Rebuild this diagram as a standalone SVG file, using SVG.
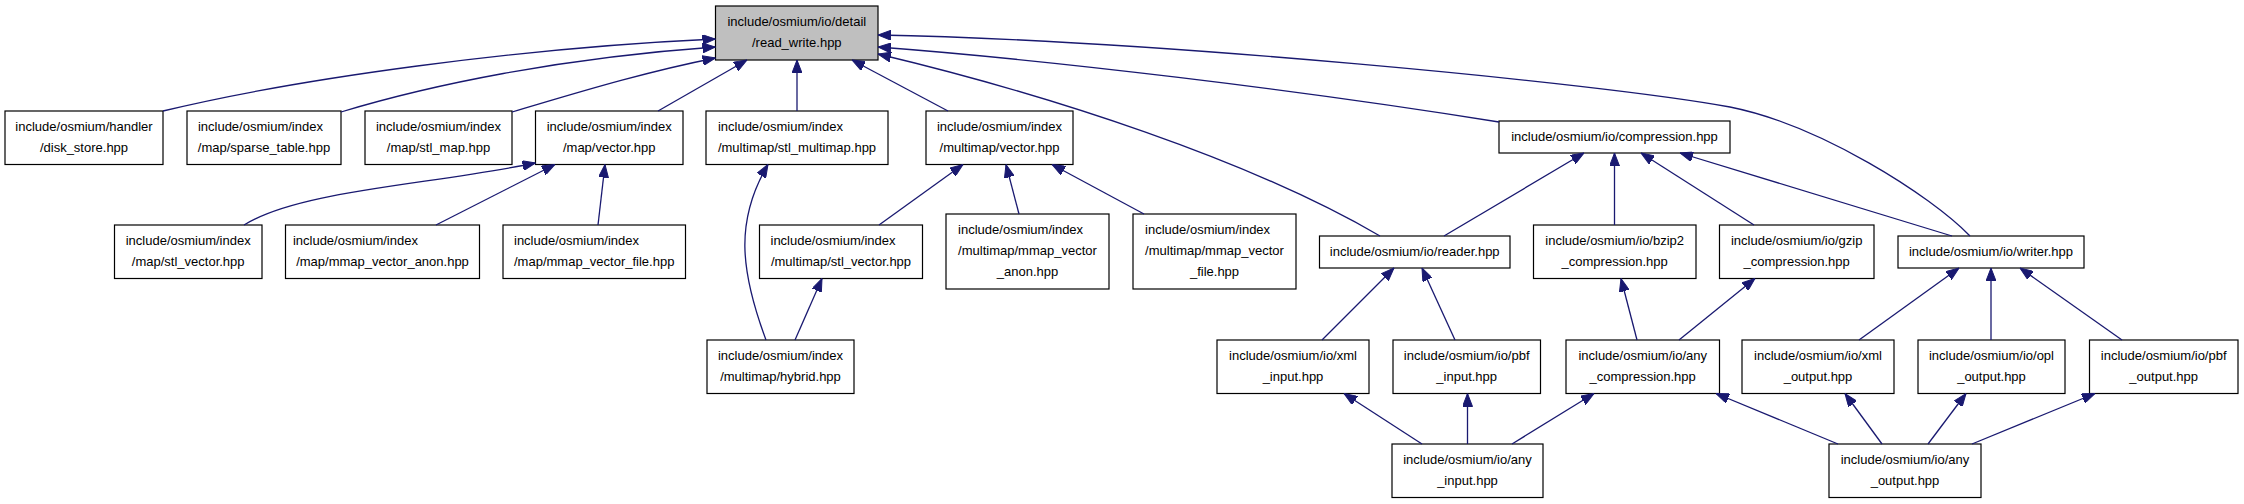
<svg xmlns="http://www.w3.org/2000/svg" width="2244" height="504" viewBox="0 0 2244 504">
<style>
  .node rect { fill: #ffffff; stroke: #000000; stroke-width: 1.2; }
  .node.hl rect { fill: #bfbfbf; }
  .node text { font-family: "Liberation Sans", Arial, Helvetica, sans-serif; font-size: 13px; fill: #000000; text-anchor: middle; }
  .node text.l { text-anchor: start; }
  .edges path { fill: none; stroke: #191970; stroke-width: 1.3; marker-end: url(#arrow); }
</style>
<defs>
  <marker id="arrow" viewBox="0 0 13 10" markerWidth="13" markerHeight="10" refX="13" refY="5" orient="auto" markerUnits="userSpaceOnUse">
    <path d="M0,0 L13,5 L0,10 Z" fill="#191970" stroke="#191970" stroke-width="1"/>
  </marker>
</defs>
<rect x="0" y="0" width="2244" height="504" fill="#ffffff"/>

<g id="n_read_write" class="node hl">
  <rect x="715.5" y="6" width="162.5" height="54"/>
  <text x="796.8" y="25.5">include/osmium/io/detail</text>
  <text x="796.8" y="46.5">/read_write.hpp</text>
</g>
<g id="n_disk_store" class="node">
  <rect x="5" y="111" width="158" height="53.5"/>
  <text x="84" y="130.5">include/osmium/handler</text>
  <text x="84" y="151.5">/disk_store.hpp</text>
</g>
<g id="n_sparse_table" class="node">
  <rect x="187" y="111" width="154" height="53.5"/>
  <text class="l" x="197.9" y="130.5">include/osmium/index</text>
  <text x="264" y="151.5">/map/sparse_table.hpp</text>
</g>
<g id="n_stl_map" class="node">
  <rect x="365" y="111" width="147" height="53.5"/>
  <text x="438.5" y="130.5">include/osmium/index</text>
  <text x="438.5" y="151.5">/map/stl_map.hpp</text>
</g>
<g id="n_map_vector" class="node">
  <rect x="535.5" y="111" width="147.5" height="53.5"/>
  <text x="609.2" y="130.5">include/osmium/index</text>
  <text x="609.2" y="151.5">/map/vector.hpp</text>
</g>
<g id="n_stl_multimap" class="node">
  <rect x="706" y="111" width="182" height="53.5"/>
  <text class="l" x="717.9" y="130.5">include/osmium/index</text>
  <text x="797" y="151.5">/multimap/stl_multimap.hpp</text>
</g>
<g id="n_multimap_vector" class="node">
  <rect x="926" y="111" width="147" height="53.5"/>
  <text x="999.5" y="130.5">include/osmium/index</text>
  <text x="999.5" y="151.5">/multimap/vector.hpp</text>
</g>
<g id="n_compression" class="node">
  <rect x="1499" y="121" width="231" height="32"/>
  <text x="1614.5" y="140.5">include/osmium/io/compression.hpp</text>
</g>
<g id="n_map_stl_vector" class="node">
  <rect x="114.5" y="225" width="147.5" height="53.5"/>
  <text x="188.2" y="244.5">include/osmium/index</text>
  <text x="188.2" y="265.5">/map/stl_vector.hpp</text>
</g>
<g id="n_map_mmap_anon" class="node">
  <rect x="285.5" y="225" width="194" height="53.5"/>
  <text class="l" x="292.9" y="244.5">include/osmium/index</text>
  <text x="382.5" y="265.5">/map/mmap_vector_anon.hpp</text>
</g>
<g id="n_map_mmap_file" class="node">
  <rect x="503" y="225" width="182.5" height="53.5"/>
  <text class="l" x="514" y="244.5">include/osmium/index</text>
  <text x="594.2" y="265.5">/map/mmap_vector_file.hpp</text>
</g>
<g id="n_mm_stl_vector" class="node">
  <rect x="759.5" y="225" width="163" height="53.5"/>
  <text class="l" x="770.5" y="244.5">include/osmium/index</text>
  <text x="841" y="265.5">/multimap/stl_vector.hpp</text>
</g>
<g id="n_mm_mmap_anon" class="node">
  <rect x="946" y="214" width="163" height="75"/>
  <text class="l" x="958.1" y="233.5">include/osmium/index</text>
  <text class="l" x="958.1" y="254.5">/multimap/mmap_vector</text>
  <text x="1027.5" y="275.5">_anon.hpp</text>
</g>
<g id="n_mm_mmap_file" class="node">
  <rect x="1133" y="214" width="163" height="75"/>
  <text class="l" x="1145.1" y="233.5">include/osmium/index</text>
  <text class="l" x="1145.1" y="254.5">/multimap/mmap_vector</text>
  <text x="1214.5" y="275.5">_file.hpp</text>
</g>
<g id="n_reader" class="node">
  <rect x="1319.5" y="236" width="190.5" height="32"/>
  <text x="1414.7" y="255.5">include/osmium/io/reader.hpp</text>
</g>
<g id="n_bzip2" class="node">
  <rect x="1533.5" y="225" width="162.5" height="53.5"/>
  <text x="1614.7" y="244.5">include/osmium/io/bzip2</text>
  <text x="1614.7" y="265.5">_compression.hpp</text>
</g>
<g id="n_gzip" class="node">
  <rect x="1719.5" y="225" width="154.5" height="53.5"/>
  <text x="1796.7" y="244.5">include/osmium/io/gzip</text>
  <text x="1796.7" y="265.5">_compression.hpp</text>
</g>
<g id="n_writer" class="node">
  <rect x="1898" y="236" width="186" height="32"/>
  <text x="1991" y="255.5">include/osmium/io/writer.hpp</text>
</g>
<g id="n_hybrid" class="node">
  <rect x="707" y="340" width="147" height="53.5"/>
  <text x="780.5" y="359.5">include/osmium/index</text>
  <text x="780.5" y="380.5">/multimap/hybrid.hpp</text>
</g>
<g id="n_xml_input" class="node">
  <rect x="1217" y="340" width="152" height="53.5"/>
  <text x="1293" y="359.5">include/osmium/io/xml</text>
  <text x="1293" y="380.5">_input.hpp</text>
</g>
<g id="n_pbf_input" class="node">
  <rect x="1393" y="340" width="147.5" height="53.5"/>
  <text x="1466.7" y="359.5">include/osmium/io/pbf</text>
  <text x="1466.7" y="380.5">_input.hpp</text>
</g>
<g id="n_any_compression" class="node">
  <rect x="1566" y="340" width="153.5" height="53.5"/>
  <text x="1642.7" y="359.5">include/osmium/io/any</text>
  <text x="1642.7" y="380.5">_compression.hpp</text>
</g>
<g id="n_xml_output" class="node">
  <rect x="1742" y="340" width="152" height="53.5"/>
  <text x="1818" y="359.5">include/osmium/io/xml</text>
  <text x="1818" y="380.5">_output.hpp</text>
</g>
<g id="n_opl_output" class="node">
  <rect x="1918" y="340" width="147" height="53.5"/>
  <text x="1991.5" y="359.5">include/osmium/io/opl</text>
  <text x="1991.5" y="380.5">_output.hpp</text>
</g>
<g id="n_pbf_output" class="node">
  <rect x="2089.5" y="340" width="148.5" height="53.5"/>
  <text x="2163.7" y="359.5">include/osmium/io/pbf</text>
  <text x="2163.7" y="380.5">_output.hpp</text>
</g>
<g id="n_any_input" class="node">
  <rect x="1392" y="444" width="151" height="53.5"/>
  <text x="1467.5" y="463.5">include/osmium/io/any</text>
  <text x="1467.5" y="484.5">_input.hpp</text>
</g>
<g id="n_any_output" class="node">
  <rect x="1829" y="444" width="152" height="53.5"/>
  <text x="1905" y="463.5">include/osmium/io/any</text>
  <text x="1905" y="484.5">_output.hpp</text>
</g>

<g id="edges" class="edges">
  <path d="M163,111 C300,78 520,48 715.5,39"/>
  <path d="M341,112 C430,85 560,58 715.5,47"/>
  <path d="M512,112 C570,95 640,73 715.5,58"/>
  <path d="M658,111 L747,60"/>
  <path d="M797,111 L797,60"/>
  <path d="M948,111 L852,60"/>
  <path d="M1380,236 C1250,160 1050,95 878,54"/>
  <path d="M1499,122 C1300,90 1050,60 878,47"/>
  <path d="M1970,236 C1930,195 1820,125 1730,107 C1600,83 1150,40 878,35"/>
  <path d="M244,225 C300,190 430,185 535.5,163"/>
  <path d="M436,225 L555,164.5"/>
  <path d="M598,225 L605,164.5"/>
  <path d="M766,340 C740,270 735,220 768,164.5"/>
  <path d="M795,340 L822,278.5"/>
  <path d="M879,225 L963,164.5"/>
  <path d="M1019,214 L1006,164.5"/>
  <path d="M1144,214 L1052,164.5"/>
  <path d="M1444,236 L1584,153"/>
  <path d="M1614.5,225 L1614.5,153"/>
  <path d="M1754,225 L1641,153"/>
  <path d="M1952,236 L1680,153"/>
  <path d="M1322,340 L1394,268"/>
  <path d="M1455,340 L1422,268"/>
  <path d="M1637,340 L1621,278.5"/>
  <path d="M1679,340 L1755,278.5"/>
  <path d="M1859,340 L1959,268"/>
  <path d="M1991,340 L1991,268"/>
  <path d="M2122,340 L2020,268"/>
  <path d="M1422,444 L1344,393.5"/>
  <path d="M1467.5,444 L1467.5,393.5"/>
  <path d="M1512,444 L1594,393.5"/>
  <path d="M1838,444 L1716,393.5"/>
  <path d="M1882,444 L1845,393.5"/>
  <path d="M1928,444 L1966,393.5"/>
  <path d="M1972,444 L2095,393.5"/>
</g>
</svg>
